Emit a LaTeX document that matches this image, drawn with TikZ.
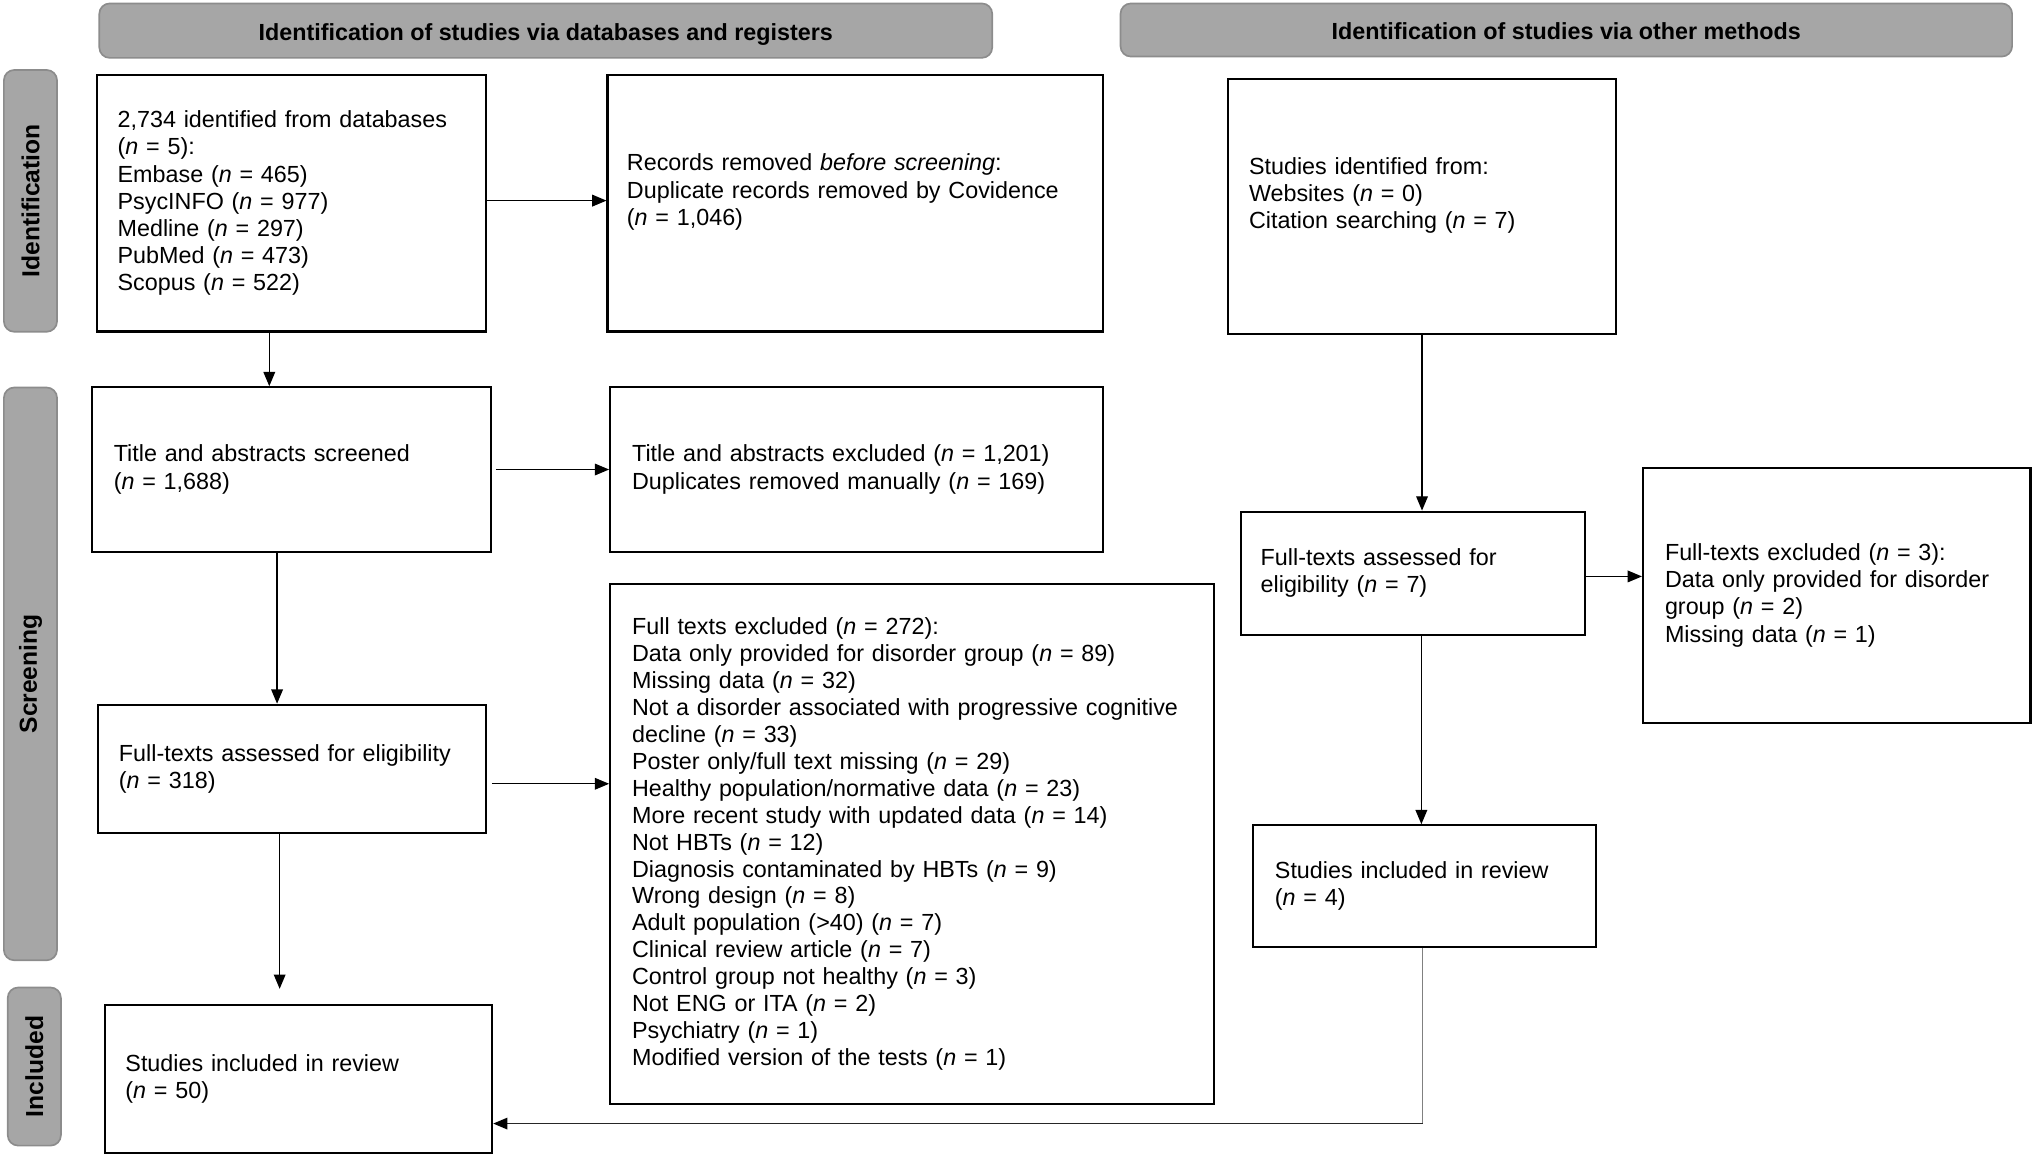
\documentclass[tikz,border=0pt]{standalone}
\usepackage{fontspec}
\setmainfont{Liberation Sans}
\usetikzlibrary{arrows.meta}
\definecolor{hdrfill}{HTML}{A6A6A6}
\definecolor{hdrline}{HTML}{8C8C8C}
\begin{document}
\begin{tikzpicture}[x=1pt,y=-1pt,
  every node/.style={font=\fontsize{18}{21}\selectfont},
  box/.style={draw=black, line width=1.6pt, anchor=north west, align=left, inner xsep=16pt, inner ysep=0pt},
  hdr/.style={draw=hdrline, fill=hdrfill, line width=1.3pt, rounded corners=8pt, anchor=north west, inner sep=0pt, text depth=0pt, font=\fontsize{18}{21}\selectfont\bfseries},
  side/.style={draw=hdrline, fill=hdrfill, line width=1.3pt, rounded corners=8pt, anchor=center, inner sep=0pt, rotate=90, font=\fontsize{19}{21}\selectfont\bfseries},
  arr/.style={line width=1pt, -{Triangle[length=11pt,width=9pt,color=black]}},
]
\useasboundingbox (0,0) rectangle (1568,892);

% headers
\node[hdr, minimum width=689pt, minimum height=42pt] (h1) at (76,2) {\raisebox{-2pt}{Identification of studies via databases and registers}};
\node[hdr, minimum width=688pt, minimum height=41pt] (h2) at (864,2) {\raisebox{-2pt}{Identification of studies via other methods}};

% side bars
\node[side, minimum width=202pt, minimum height=41pt] (s1) at (23.5,155) {Identification};
\node[side, minimum width=442pt, minimum height=41pt] (s2) at (23.5,520) {Screening};
\node[side, minimum width=122pt, minimum height=41pt] (s3) at (26.5,823) {Included};

% boxes
\node[box, text width=268pt, minimum width=300pt, minimum height=198pt] (A) at (74,57)
 {2,734 identified from databases\\(\textit{n} = 5):\\Embase (\textit{n} = 465)\\PsycINFO (\textit{n} = 977)\\Medline (\textit{n} = 297)\\PubMed (\textit{n} = 473)\\Scopus (\textit{n} = 522)};
\node[box, text width=352pt, minimum width=382pt, minimum height=198pt, inner xsep=15pt] (B) at (468,57)
 {Records removed \textit{before screening}:\\Duplicate records removed by Covidence\\(\textit{n} = 1,046)\\~};
\node[box, text width=267pt, minimum width=299pt, minimum height=197pt] (C) at (947,60)
 {Studies identified from:\\Websites (\textit{n} = 0)\\Citation searching (\textit{n} = 7)\\~};
\node[box, text width=274pt, minimum width=308pt, minimum height=127pt, inner xsep=17pt] (D) at (70,298)
 {Title and abstracts screened\\(\textit{n} = 1,688)};
\node[box, text width=346pt, minimum width=380pt, minimum height=127pt, inner xsep=17pt] (E) at (470,298)
 {Title and abstracts excluded (\textit{n} = 1,201)\\Duplicates removed manually (\textit{n} = 169)};
\node[box, text width=432pt, minimum width=466pt, minimum height=401pt, inner xsep=17pt, font=\fontsize{18}{20.8}\selectfont] (F) at (470,450)
 {Full texts excluded (\textit{n} = 272):\\
  Data only provided for disorder group (\textit{n} = 89)\\
  Missing data (\textit{n} = 32)\\
  Not a disorder associated with progressive cognitive\\
  decline (\textit{n} = 33)\\
  Poster only/full text missing (\textit{n} = 29)\\
  Healthy population/normative data (\textit{n} = 23)\\
  More recent study with updated data (\textit{n} = 14)\\
  Not HBTs (\textit{n} = 12)\\
  Diagnosis contaminated by HBTs (\textit{n} = 9)\\
  Wrong design (\textit{n} = 8)\\
  Adult population (>40) (\textit{n} = 7)\\
  Clinical review article (\textit{n} = 7)\\
  Control group not healthy (\textit{n} = 3)\\
  Not ENG or ITA (\textit{n} = 2)\\
  Psychiatry (\textit{n} = 1)\\
  Modified version of the tests (\textit{n} = 1)};
\node[box, text width=267pt, minimum width=299pt, minimum height=99pt] (G) at (75,543)
 {Full-texts assessed for eligibility\\(\textit{n} = 318)};
\node[box, text width=267pt, minimum width=299pt, minimum height=114pt] (H) at (80,775)
 {Studies included in review\\(\textit{n} = 50)};
\node[box, text width=235pt, minimum width=265pt, minimum height=95pt, inner xsep=15pt] (I) at (957,394)
 {Full-texts assessed for\\eligibility (\textit{n} = 7)};
\node[box, text width=265pt, minimum width=299pt, minimum height=197pt, inner xsep=17pt] (J) at (1267,360)
 {Full-texts excluded (\textit{n} = 3):\\Data only provided for disorder\\group (\textit{n} = 2)\\Missing data (\textit{n} = 1)};
\node[box, text width=231pt, minimum width=265pt, minimum height=94pt, inner xsep=17pt] (K) at (966,636)
 {Studies included in review\\(\textit{n} = 4)};

% connectors
\draw[arr] ([yshift=2pt]A.east) -- ([yshift=2pt]A.east -| B.west);
\draw[arr] ([xshift=-17pt]A.south) -- ([xshift=-17pt]A.south |- D.north);
\draw[arr] ([xshift=3pt]D.east) -- (E.west);
\draw[arr] ([xshift=-11pt]D.south) -- ([xshift=-11pt]D.south |- G.north);
\draw[arr] ([xshift=4pt,yshift=-11.5pt]G.east) -- ([yshift=-11.5pt]G.east -| F.west);
\draw[arr, shorten >=12pt] ([xshift=-9.5pt]G.south) -- ([xshift=-9.5pt]G.south |- H.north);
\draw[arr] (C.south) -- (C.south |- I.north);
\draw[arr] ([yshift=-2.5pt]I.east) -- ([yshift=-2.5pt]I.east -| J.west);
\draw[arr] ([xshift=6.5pt]I.south) -- ([xshift=6.5pt]I.south |- K.north);
\coordinate (kbend) at ([xshift=-1.5pt]K.south |- 0,867);
\draw[line width=1pt, draw=black!50] ([xshift=-1.5pt]K.south) -- (kbend);
\draw[arr, draw=black!85] (kbend) -- (kbend -| H.east);
\end{tikzpicture}
\end{document}
